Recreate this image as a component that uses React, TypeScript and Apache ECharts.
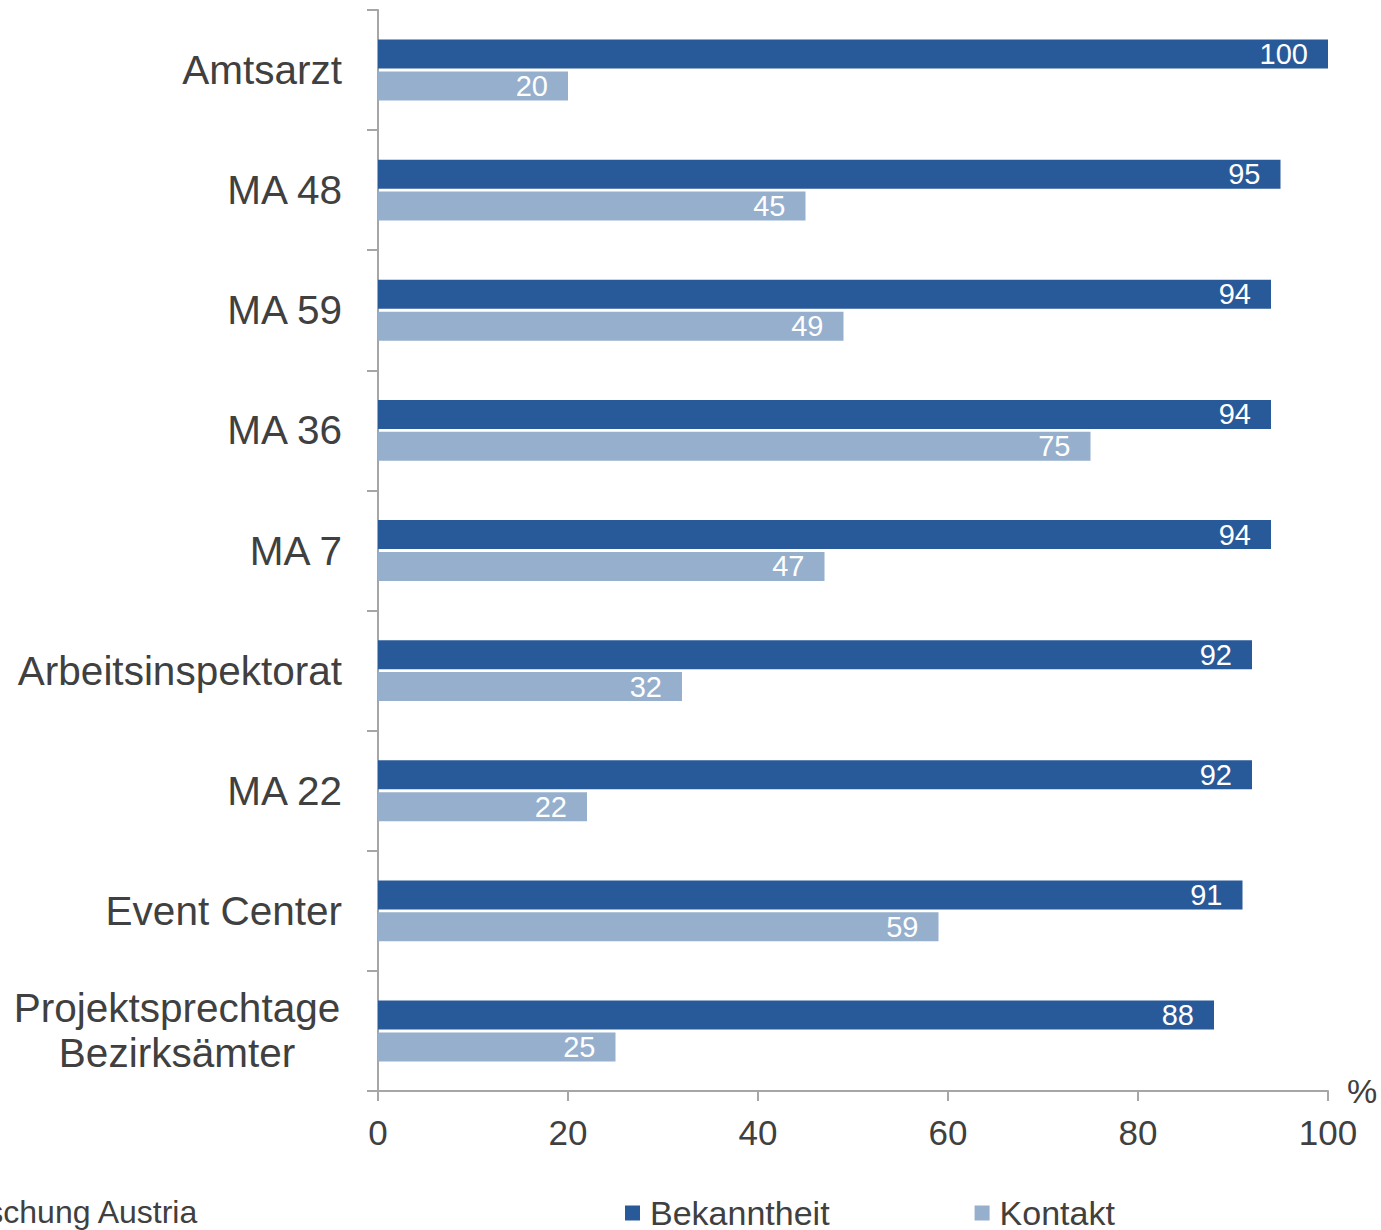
import React, { useEffect, useRef } from "react";
import * as echarts from "echarts";

// Authorities / institutions shown on the category axis (top to bottom)
const categories = [
  "Amtsarzt",
  "MA 48",
  "MA 59",
  "MA 36",
  "MA 7",
  "Arbeitsinspektorat",
  "MA 22",
  "Event Center",
  "Projektsprechtage\nBezirksämter",
];

// Awareness (%) per institution
const bekanntheit = [100, 95, 94, 94, 94, 92, 92, 91, 88];
// Contact (%) per institution
const kontakt = [20, 45, 49, 75, 47, 32, 22, 59, 25];

const xTicks = [0, 20, 40, 60, 80, 100];

const FONT = "Liberation Sans, Arial, sans-serif";
const DARK = "#285A9A";
const LIGHT = "#95AFCD";
const AXIS = "#A6A6A6";
const TEXT = "#404040";

export default function App() {
  const ref = useRef<HTMLDivElement>(null);

  useEffect(() => {
    if (!ref.current) return;
    const chart = echarts.init(ref.current, undefined, { renderer: "svg" });

    const catLabel = (v: string) => {
      if (v.includes("\n")) {
        return v
          .split("\n")
          .map((l) => `{c|${l}}`)
          .join("\n");
      }
      return v;
    };

    const barLabel = {
      show: true,
      position: "insideRight" as const,
      distance: 20,
      color: "#FFFFFF",
      fontSize: 29,
      fontFamily: FONT,
    };

    chart.setOption({
      animation: false,
      textStyle: { fontFamily: FONT },
      grid: {
        left: 378,
        right: 53,
        top: 10,
        bottom: 139,
        containLabel: false,
        outerBoundsMode: "none",
      },
      xAxis: {
        type: "value",
        min: 0,
        max: 100,
        interval: 20,
        name: "%",
        nameLocation: "end",
        nameGap: 19,
        nameTextStyle: { color: TEXT, fontSize: 34, fontFamily: FONT },
        splitLine: { show: false },
        axisLine: { show: true, lineStyle: { color: AXIS, width: 2 } },
        axisTick: { show: true, length: 10, lineStyle: { color: AXIS, width: 2 } },
        axisLabel: {
          color: TEXT,
          fontSize: 35,
          fontFamily: FONT,
          margin: 24,
          formatter: (v: number) => (xTicks.includes(v) ? String(v) : ""),
        },
      },
      yAxis: {
        type: "category",
        data: categories,
        inverse: true,
        axisLine: { show: true, lineStyle: { color: AXIS, width: 2 } },
        axisTick: { show: true, length: 11, lineStyle: { color: AXIS, width: 2 } },
        axisLabel: {
          color: TEXT,
          fontSize: 40.5,
          fontFamily: FONT,
          margin: 36,
          lineHeight: 45,
          formatter: catLabel,
          rich: {
            c: {
              width: 330,
              align: "center",
              fontSize: 40.5,
              lineHeight: 45,
              color: TEXT,
              fontFamily: FONT,
            },
          },
        },
      },
      legend: {
        left: 625,
        top: 1196,
        padding: 0,
        icon: "rect",
        itemWidth: 15,
        itemHeight: 15,
        itemGap: 145,
        textStyle: {
          color: TEXT,
          fontSize: 34,
          lineHeight: 34,
          fontFamily: FONT,
          padding: [0, 0, 0, 5],
        },
        data: ["Bekanntheit", "Kontakt"],
      },
      graphic: [
        {
          type: "text",
          right: 1381 - 199,
          top: 1196,
          style: {
            text: "Quelle: Marktforschung Austria",
            fill: TEXT,
            fontSize: 32,
            lineHeight: 32,
            fontFamily: FONT,
          },
        },
      ],
      series: [
        {
          name: "Bekanntheit",
          type: "bar",
          data: bekanntheit,
          barWidth: 29,
          barGap: "10%",
          itemStyle: { color: DARK },
          label: barLabel,
        },
        {
          name: "Kontakt",
          type: "bar",
          data: kontakt,
          barWidth: 29,
          barGap: "10%",
          itemStyle: { color: LIGHT },
          label: barLabel,
        },
      ],
    });

    return () => chart.dispose();
  }, []);

  return (
    <div
      ref={ref}
      style={{ position: "fixed", left: 0, top: 0, width: 1381, height: 1230, background: "#fff" }}
    />
  );
}
